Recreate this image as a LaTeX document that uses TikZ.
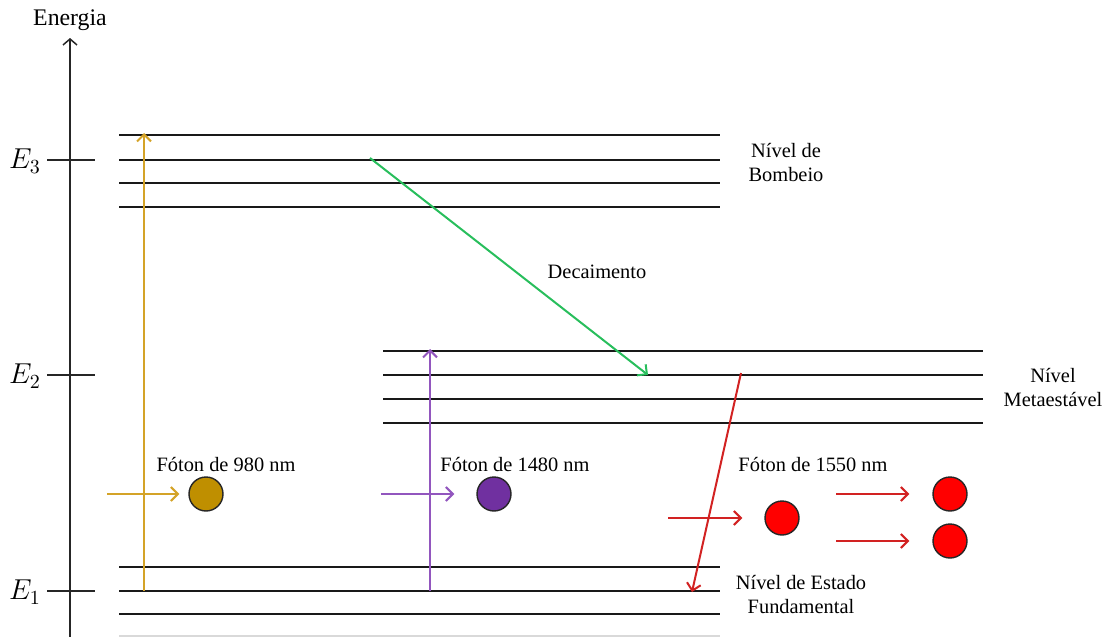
\documentclass[tikz,border=0pt]{standalone}
\usepackage{fontspec}
\setmainfont{Liberation Serif}
\usetikzlibrary{calc,arrows.meta}
\definecolor{pumpline}{RGB}{212,163,40}
\definecolor{pumpfill}{RGB}{191,143,0}
\definecolor{violline}{RGB}{146,86,190}
\definecolor{violfill}{RGB}{112,48,160}
\definecolor{decay}{RGB}{40,190,92}
\definecolor{emitline}{RGB}{210,34,34}

\begin{document}
\begin{tikzpicture}[x=0.5pt,y=-0.5pt,
    level/.style={draw=black!90,line width=1pt},
    tick/.style={draw=black!85,line width=0.75pt},
    txt/.style={font={\fontsize{10.2}{12}\selectfont},align=center,inner sep=0pt},
    energy/.style={font={\fontsize{14}{14}\selectfont},inner sep=0pt},
    photon/.style={circle,draw=black!85,line width=0.7pt,minimum size=17pt,inner sep=0pt},
    tr/.style={line width=1pt,-{Straight Barb[length=3.5pt,width=7pt]}}]
    \useasboundingbox (0,0) rectangle (1110,637);

    % eixo de energia
    \node[txt,font={\fontsize{11.9}{12}\selectfont}] (energia) at (70,20) {Energia};
    \coordinate (eixo0) at (70,640);
    \coordinate (eixo1) at (70,38);
    \draw[tick,-{Straight Barb[length=3pt,width=7pt]}] (eixo0) -- (eixo1);
    \foreach \n/\y in {3/160,2/375,1/591} {
        \draw[tick] (47,\y) -- (95,\y);
        \node[energy] (E\n) at (25,\y+1) {$E_{\n}$};
    }

    % niveis
    \foreach \y in {135,160,183,207,567,591,614} \draw[level] (119,\y) -- (720,\y);
    \draw[level,draw=black!15] (119,636) -- (720,636);
    \foreach \y in {351,375,399,423} \draw[level] (383,\y) -- (983,\y);

    \node[txt] (bombeio) at (786,163) {Nível de\\Bombeio};
    \node[txt] (meta) at (1053,388) {Nível\\Metaestável};
    \node[txt] (fund) at (801,595) {Nível de Estado\\Fundamental};
    \node[txt] (decai) at (597,272) {Decaimento};

    % transicoes
    \coordinate (a0) at (144,591);  \coordinate (a1) at (144,133);
    \coordinate (b0) at (430,591);  \coordinate (b1) at (430,349);
    \coordinate (c0) at (370,158);  \coordinate (c1) at (648,375);
    \coordinate (d0) at (741,373);  \coordinate (d1) at (692,592);
    \draw[tr,pumpline] (a0) -- (a1);
    \draw[tr,violline] (b0) -- (b1);
    \draw[tr,decay] (c0) -- (c1);
    \draw[tr,emitline] (d0) -- (d1);

    % fotons
    \node[photon,fill=pumpfill] (f980) at (206,494) {};
    \node[photon,fill=violfill] (f1480) at (494,494) {};
    \node[photon,fill=red] (f1550) at (782,518) {};
    \node[photon,fill=red] (s1) at (950,494) {};
    \node[photon,fill=red] (s2) at (950,541) {};
    \node[txt] (t980) at (226,465) {Fóton de 980 nm};
    \node[txt] (t1480) at (515,465) {Fóton de 1480 nm};
    \node[txt] (t1550) at (813,465) {Fóton de 1550 nm};

    \coordinate (i980) at (107,494);
    \coordinate (i1480) at (381,494);
    \coordinate (i1550) at (668,518);
    \coordinate (o1) at (836,494);
    \coordinate (o2) at (836,541);
    \draw[tr,pumpline,shorten >=4.5pt] (i980) -- (f980.west);
    \draw[tr,violline,shorten >=11pt] (i1480) -- (f1480.west);
    \draw[tr,emitline,shorten >=11pt] (i1550) -- (f1550.west);
    \draw[tr,emitline,shorten >=11.5pt] (o1) -- (s1.west);
    \draw[tr,emitline,shorten >=11.5pt] (o2) -- (s2.west);
\end{tikzpicture}
\end{document}
